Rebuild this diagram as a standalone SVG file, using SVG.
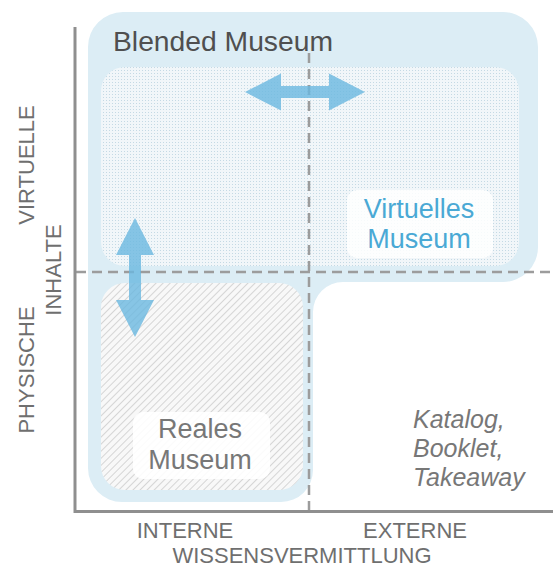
<svg xmlns="http://www.w3.org/2000/svg" width="553" height="568" viewBox="0 0 553 568">
  <style>
    text { font-family: "Liberation Sans", Arial, sans-serif; }
    .axis { stroke: #8f8f8f; stroke-width: 3; fill: none; }
    .dash { stroke: #9c9c9c; stroke-width: 2.5; stroke-dasharray: 10 6; fill: none; }
    .axlabel { font-size: 22px; fill: #6f6f6f; text-anchor: middle; }
    .big { font-size: 27px; text-anchor: middle; }
    .arrow { fill: #6ab8e0; opacity: 0.8; }
    .kat { font-size: 25px; font-style: italic; fill: #777777; }
  </style>
  <defs>
    <pattern id="dots" width="3" height="3" patternUnits="userSpaceOnUse">
      <rect width="3" height="3" fill="#f1f6f9"/>
      <rect x="1" y="1" width="1" height="1" fill="#c4d9e4"/>
    </pattern>
    <pattern id="hatch" width="5" height="5" patternUnits="userSpaceOnUse" patternTransform="rotate(45)">
      <rect width="5" height="5" fill="#f8f8f8"/>
      <line x1="0" y1="0" x2="0" y2="5" stroke="#cdcdcd" stroke-width="1.6"/>
    </pattern>
  </defs>

  <g id="blended-museum">
    <path d="M 123,12 H 503 A 35,35 0 0 1 538,47 V 247 A 35,35 0 0 1 503,282 H 343 A 30,30 0 0 0 313,312 V 470 A 32,32 0 0 1 281,502 H 122 A 34,34 0 0 1 88,468 V 47 A 35,35 0 0 1 123,12 Z" fill="#dcedf5"/>
    <text x="113" y="51" font-size="27" fill="#4f4f4f" textLength="220" lengthAdjust="spacingAndGlyphs">Blended Museum</text>
  </g>

  <g id="virtuelles-museum">
    <rect x="101" y="67" width="418" height="199" rx="24" fill="url(#dots)"/>
    <rect x="347" y="190" width="146" height="68" rx="10" fill="#ffffff" opacity="0.85"/>
    <text class="big" x="419" y="218" fill="#4aa9d5">Virtuelles</text>
    <text class="big" x="419" y="248" fill="#4aa9d5">Museum</text>
  </g>

  <g id="reales-museum">
    <rect x="101" y="283" width="202" height="207" rx="24" fill="url(#hatch)"/>
    <rect x="133" y="412" width="137" height="67" rx="10" fill="#ffffff" opacity="0.9"/>
    <text class="big" x="200" y="438" fill="#777777" font-size="29">Reales</text>
    <text class="big" x="200" y="469" fill="#777777" font-size="29">Museum</text>
  </g>

  <g id="katalog">
    <text class="kat" x="413" y="428">Katalog,</text>
    <text class="kat" x="413" y="457">Booklet,</text>
    <text class="kat" x="413" y="486">Takeaway</text>
  </g>

  <g id="connectors">
    <line class="dash" x1="309" y1="53" x2="309" y2="511"/>
    <line class="dash" x1="76" y1="272" x2="553" y2="272"/>
    <path class="arrow" d="M 245,92 L 281,73.5 L 281,86 L 329,86 L 329,73.5 L 365,92 L 329,110.5 L 329,98 L 281,98 L 281,110.5 Z"/>
    <path class="arrow" d="M 135,218 L 154,255 L 141,255 L 141,300 L 154,300 L 135,337 L 116,300 L 129,300 L 129,255 L 116,255 Z"/>
  </g>

  <g id="axes">
    <path class="axis" d="M 75,27 V 511.5 H 553"/>
  </g>

  <g id="axis-labels">
    <text class="axlabel" transform="translate(34,165) rotate(-90)">VIRTUELLE</text>
    <text class="axlabel" transform="translate(61,270) rotate(-90)">INHALTE</text>
    <text class="axlabel" transform="translate(34,370) rotate(-90)">PHYSISCHE</text>
    <text class="axlabel" x="185" y="538">INTERNE</text>
    <text class="axlabel" x="415" y="538">EXTERNE</text>
    <text class="axlabel" x="302" y="563">WISSENSVERMITTLUNG</text>
  </g>
</svg>
